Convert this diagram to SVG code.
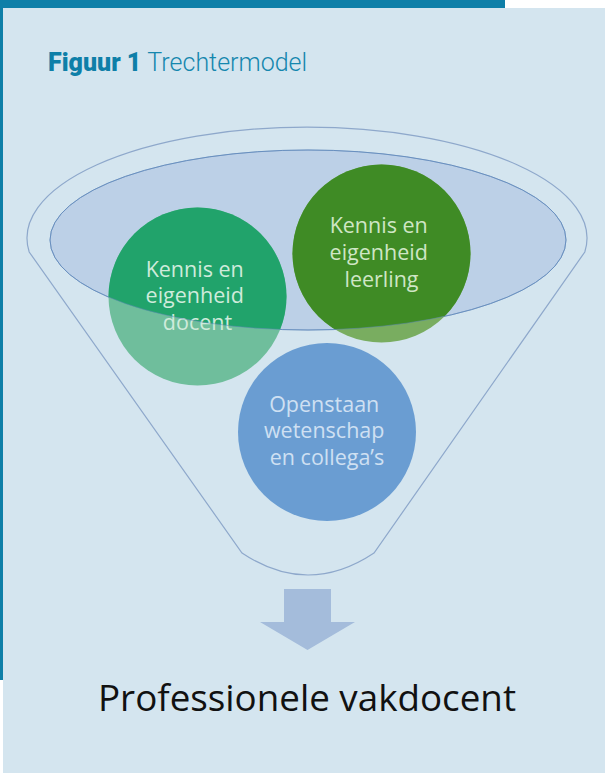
<svg xmlns="http://www.w3.org/2000/svg" width="605" height="773" viewBox="0 0 605 773">
  <style>
    .title-bold { font-family: Roboto, "Liberation Sans", sans-serif; font-weight: 900; font-size: 25px; fill: #0E7FA8; }
    .title-light { font-family: Roboto, "Liberation Sans", sans-serif; font-weight: 300; font-size: 25px; fill: #1587AE; }
    .label { font-family: "Open Sans", "Liberation Sans", sans-serif; font-size: 21.5px; text-anchor: middle; }
    .funnel { fill: none; stroke: #8EA8CB; stroke-width: 1.2; }
    .rim { fill: #BCD0E7; stroke: #7297C4; stroke-width: 1; }
    .rim-edge { fill: none; stroke: #5F87BA; stroke-width: 1; opacity: 0.5; }
  </style>
  <defs>
    <clipPath id="rimClip">
      <ellipse cx="308" cy="240" rx="258" ry="90"/>
    </clipPath>
  </defs>

  <!-- page background and frame -->
  <rect x="0" y="0" width="605" height="773" fill="#FFFFFF"/>
  <rect x="3" y="8" width="602" height="765" fill="#D4E5EF"/>
  <rect x="0" y="0" width="505" height="8" fill="#0E7FA8"/>
  <rect x="0" y="0" width="3" height="680" fill="#0E7FA8"/>

  <!-- caption -->
  <text x="48" y="71"><tspan class="title-bold">Figuur 1</tspan><tspan class="title-light" dx="6">Trechtermodel</tspan></text>

  <!-- funnel outline and opening -->
  <g id="funnel">
    <path class="funnel" d="M 29.2 252 A 280 111 0 1 1 584.8 252 L 374 553 Q 308 597 242 553 Z"/>
    <ellipse class="rim" cx="308" cy="240" rx="258" ry="90"/>
  </g>

  <g id="docent">
    <circle cx="197.5" cy="296.5" r="89" fill="#6FBE9C"/>
    <circle cx="197.5" cy="296.5" r="89" fill="#21A36B" clip-path="url(#rimClip)"/>
    <text class="label" fill="#CFEBDB">
      <tspan x="197.5" y="277">Kennis en</tspan>
      <tspan x="197.5" y="303">eigenheid</tspan>
      <tspan x="197.5" y="330">docent</tspan>
    </text>
  </g>

  <g id="leerling">
    <circle cx="381.5" cy="253.5" r="89" fill="#79AD60"/>
    <circle cx="381.5" cy="253.5" r="89" fill="#3F8B25" clip-path="url(#rimClip)"/>
    <text class="label" fill="#CFE6C5">
      <tspan x="381.5" y="233">Kennis en</tspan>
      <tspan x="381.5" y="260">eigenheid</tspan>
      <tspan x="381.5" y="287">leerling</tspan>
    </text>
  </g>

  <g id="openstaan">
    <circle cx="327" cy="432" r="89" fill="#6A9DD2"/>
    <text class="label" fill="#CFE0F2">
      <tspan x="327" y="412">Openstaan</tspan>
      <tspan x="327" y="438">wetenschap</tspan>
      <tspan x="327" y="465">en collega’s</tspan>
    </text>
  </g>

  <!-- rim edge drawn over the circles -->
  <ellipse class="rim-edge" cx="308" cy="240" rx="258" ry="90"/>

  <!-- output arrow -->
  <g id="connectors">
    <path d="M 284 589 L 331 589 L 331 622 L 355 622 L 307.5 650 L 260 622 L 284 622 Z" fill="#A4BCDB"/>
  </g>

  <g id="result">
    <text x="307" y="711" text-anchor="middle" font-family="'Open Sans', 'Liberation Sans', sans-serif" font-size="36" fill="#111111" textLength="418" lengthAdjust="spacingAndGlyphs">Professionele vakdocent</text>
  </g>
</svg>
